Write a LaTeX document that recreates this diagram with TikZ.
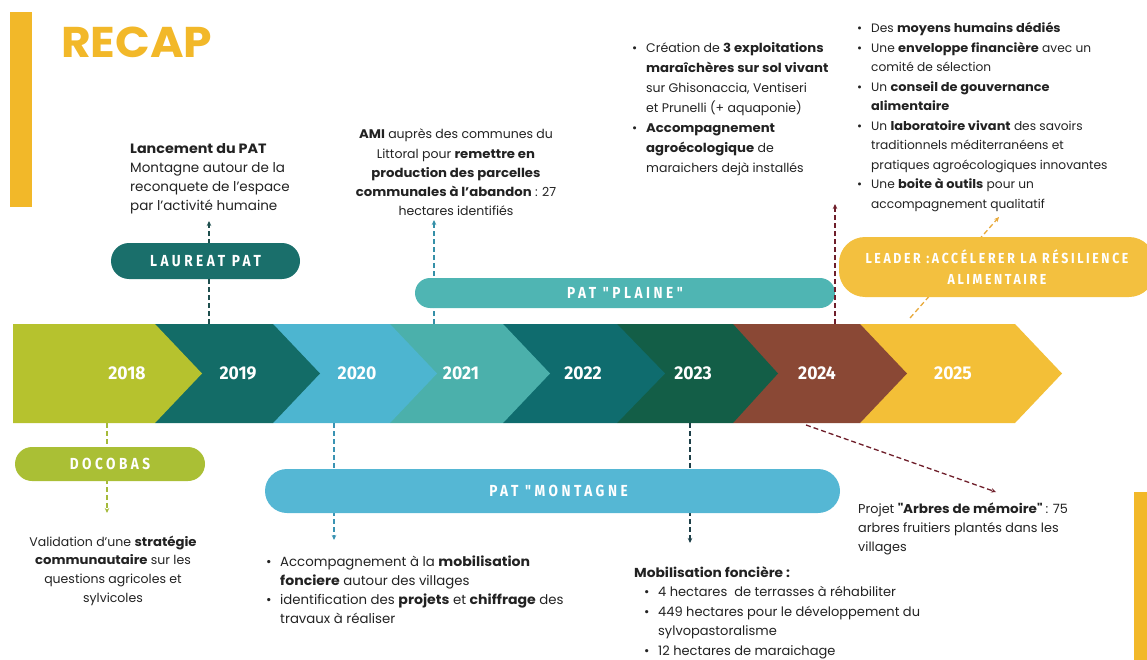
\documentclass[tikz,border=0pt]{standalone}
\usepackage{fontspec}
\setmainfont{Poppins}[BoldFeatures={FakeStretch=1.06}]
\newfontfamily\pillfont[LetterSpace=22,FakeStretch=0.85]{Fira Sans}
\newfontfamily\leadfont[LetterSpace=18,FakeStretch=0.85]{Fira Sans}
\newfontfamily\yearfont[FakeStretch=0.95]{Fira Sans}
\usetikzlibrary{arrows.meta}
\definecolor{recapyel}{HTML}{F2B829}
\definecolor{c2018}{HTML}{B6C22E}
\definecolor{c2019}{HTML}{136C67}
\definecolor{c2020}{HTML}{4DB5D0}
\definecolor{c2021}{HTML}{4BB0AB}
\definecolor{c2022}{HTML}{0F6C6E}
\definecolor{c2023}{HTML}{135E47}
\definecolor{c2024}{HTML}{8A4835}
\definecolor{c2025}{HTML}{F3BF37}
\definecolor{plaur}{HTML}{1A6F6B}
\definecolor{pplaine}{HTML}{4FB5B3}
\definecolor{pleader}{HTML}{F3C03F}
\definecolor{pdoco}{HTML}{AABF35}
\definecolor{pmont}{HTML}{55B7D4}
\definecolor{llaur}{HTML}{1F4F4E}
\definecolor{lplaine}{HTML}{3590A8}
\definecolor{lred}{HTML}{6E1E2A}
\definecolor{lyel}{HTML}{E8A93A}
\definecolor{ldoco}{HTML}{A5BA3A}
\definecolor{lmont}{HTML}{3A93B3}
\definecolor{ldark}{HTML}{1D3F48}
\definecolor{txtdark}{HTML}{222222}
\newcommand\bulx{\makebox[14pt][l]{•}}
\newcommand\indx{\hspace*{14pt}}
\begin{document}
\begin{tikzpicture}[x=1pt,y=-1pt,
  txt/.style={inner sep=0pt, text=txtdark, font=\fontsize{12}{19.5}\selectfont},
  pill/.style={inner sep=0pt, text=white, font=\pillfont\bfseries\fontsize{16}{21}\selectfont, align=center},
  yearlbl/.style={inner sep=0pt, text=white, font=\yearfont\bfseries\fontsize{18.5}{20}\selectfont},
  conn/.style={line width=1.3pt, dash pattern=on 5pt off 3pt, -{Stealth[length=5pt,width=4.5pt]}}
]
\useasboundingbox (0,0) rectangle (1147,660);
\clip (0,0) rectangle (1147,660);
% side bars
\fill[recapyel] (10,12) rectangle (32,207);
\fill[recapyel] (1134,492) rectangle (1147,660);
\node[inner sep=0pt, anchor=base west, text=recapyel, font=\bfseries\fontsize{43}{45}\selectfont] (recap) at (61,58) {RECAP};
% timeline
\fill[c2025] (860,324) -- (1015,324) -- (1062,373.5) -- (1015,423) -- (860,423) -- cycle;
\fill[c2024] (733,324) -- (860,324) -- (907,373.5) -- (860,423) -- (733,423) -- cycle;
\fill[c2023] (617,324) -- (733,324) -- (778,373.5) -- (733,423) -- (617,423) -- cycle;
\fill[c2022] (503,324) -- (617,324) -- (665,373.5) -- (617,423) -- (503,423) -- cycle;
\fill[c2021] (390,324) -- (503,324) -- (550,373.5) -- (503,423) -- (390,423) -- cycle;
\fill[c2020] (273,324) -- (390,324) -- (437,373.5) -- (390,423) -- (273,423) -- cycle;
\fill[c2019] (155,324) -- (273,324) -- (320,373.5) -- (273,423) -- (155,423) -- cycle;
\fill[c2018] (13,324) -- (155,324) -- (202,373.5) -- (155,423) -- (13,423) -- cycle;
\node[yearlbl] (y2018) at (127,373.5) {2018};
\node[yearlbl] (y2019) at (238,373.5) {2019};
\node[yearlbl] (y2020) at (357,373.5) {2020};
\node[yearlbl] (y2021) at (461,373.5) {2021};
\node[yearlbl] (y2022) at (583,373.5) {2022};
\node[yearlbl] (y2023) at (693,373.5) {2023};
\node[yearlbl] (y2024) at (817,373.5) {2024};
\node[yearlbl] (y2025) at (953,373.5) {2025};
% anchor coordinates
\coordinate (t19) at (209,324);
\coordinate (laurtip) at (209,221);
\coordinate (t21) at (434,324);
\coordinate (amitip) at (434,220);
\coordinate (t24) at (835,324);
\coordinate (creatip) at (835,204);
\coordinate (t25) at (910,318);
\coordinate (qualtip) at (999,217);
\coordinate (t18) at (107,423);
\coordinate (valtip) at (107,513);
\coordinate (t20) at (334,423);
\coordinate (montip) at (334,540);
\coordinate (t23) at (690,423);
\coordinate (mobtip) at (690,543);
\coordinate (t24b) at (806,425);
\coordinate (projtip) at (996,492);
% connectors behind pills
\draw[conn, llaur] (t19) -- (laurtip);
\draw[conn, lplaine] (t21) -- (amitip);
\draw[conn, lyel] (t25) -- (qualtip);
\draw[conn, ldoco] (t18) -- (valtip);
\draw[conn, lmont] (t20) -- (montip);
\draw[conn, ldark] (t23) -- (mobtip);
\draw[conn, lred] (t24b) -- (projtip);
% pills
\node[pill, fill=plaur, minimum width=189pt, minimum height=36pt, rounded corners=18pt] (laureat) at (205.5,261) {LAUREAT PAT};
\node[pill, fill=pplaine, minimum width=420pt, minimum height=30pt, rounded corners=15pt] (plaine) at (625,293) {PAT "PLAINE"};
\node[pill, fill=pleader, minimum width=316pt, minimum height=60pt, rounded corners=26pt, font=\leadfont\bfseries\fontsize{14.5}{21}\selectfont] (leader) at (997,267) {LEADER :ACCÉLERER LA RÉSILIENCE\\ALIMENTAIRE};
\node[pill, fill=pdoco, minimum width=190pt, minimum height=34pt, rounded corners=17pt] (docobas) at (110,464) {DOCOBAS};
\node[pill, fill=pmont, minimum width=575pt, minimum height=44pt, rounded corners=22pt] (montagne) at (552.5,491) {\hspace*{12pt}PAT "MONTAGNE};
\draw[conn, lred] (t24) -- (creatip);
% texts
\node[txt, anchor=base west, font=\fontsize{13.5}{18.7}\selectfont] (lancement) at (130,154)
  {\begin{tabular}[t]{@{}l@{}}\textbf{Lancement du PAT}\\Montagne autour de la\\reconquete de l'espace\\par l'activité humaine\end{tabular}};
\node[txt, anchor=base, font=\fontsize{12.5}{19.2}\selectfont] (ami) at (456,139)
  {\begin{tabular}[t]{@{}c@{}}\textbf{AMI} auprès des communes du\\Littoral pour \textbf{remettre en}\\\textbf{production des parcelles}\\\textbf{communales à l'abandon} : 27\\hectares identifiés\end{tabular}};
\node[txt, anchor=base west, font=\fontsize{12.5}{20}\selectfont] (creation) at (632,53)
  {\begin{tabular}[t]{@{}l@{}}\bulx Création de \textbf{3 exploitations}\\\indx\textbf{maraîchères sur sol vivant}\\\indx sur Ghisonaccia, Ventiseri\\\indx et Prunelli (+ aquaponie)\\\bulx\textbf{Accompagnement}\\\indx\textbf{agroécologique} de\\\indx maraichers dejà installés\end{tabular}};
\node[txt, anchor=base west, font=\fontsize{12.2}{19.5}\selectfont] (moyens) at (857,33)
  {\begin{tabular}[t]{@{}l@{}}\bulx Des \textbf{moyens humains dédiés}\\\bulx Une \textbf{enveloppe financière} avec un\\\indx comité de sélection\\\bulx Un \textbf{conseil de gouvernance}\\\indx\textbf{alimentaire}\\\bulx Un \textbf{laboratoire vivant} des savoirs\\\indx traditionnels méditerranéens et\\\indx pratiques agroécologiques innovantes\\\bulx Une \textbf{boite à outils} pour un\\\indx accompagnement qualitatif\end{tabular}};
\node[txt, anchor=base, font=\fontsize{12.5}{18.7}\selectfont] (validation) at (113,546)
  {\begin{tabular}[t]{@{}c@{}}Validation d'une \textbf{stratégie}\\\textbf{communautaire} sur les\\questions agricoles et\\sylvicoles\end{tabular}};
\node[txt, anchor=base west, font=\fontsize{13.3}{19.3}\selectfont] (accomp) at (266,566)
  {\begin{tabular}[t]{@{}l@{}}\bulx Accompagnement à la \textbf{mobilisation}\\\indx\textbf{fonciere} autour des villages\\\bulx identification des \textbf{projets} et \textbf{chiffrage} des\\\indx travaux à réaliser\end{tabular}};
\node[txt, anchor=base west, font=\fontsize{13}{19.5}\selectfont] (mobil) at (634,577)
  {\begin{tabular}[t]{@{}l@{}}\textbf{Mobilisation foncière :}\\\hspace*{10pt}\bulx 4 hectares\ \ de terrasses à réhabiliter\\\hspace*{10pt}\bulx 449 hectares pour le développement du\\\hspace*{10pt}\indx sylvopastoralisme\\\hspace*{10pt}\bulx 12 hectares de maraichage\end{tabular}};
\node[txt, anchor=base west, font=\fontsize{12.8}{19}\selectfont] (projet) at (858,513)
  {\begin{tabular}[t]{@{}l@{}}Projet \textbf{\textquotedbl Arbres de mémoire\textquotedbl} : 75\\arbres fruitiers plantés dans les\\villages\end{tabular}};
\end{tikzpicture}
\end{document}
